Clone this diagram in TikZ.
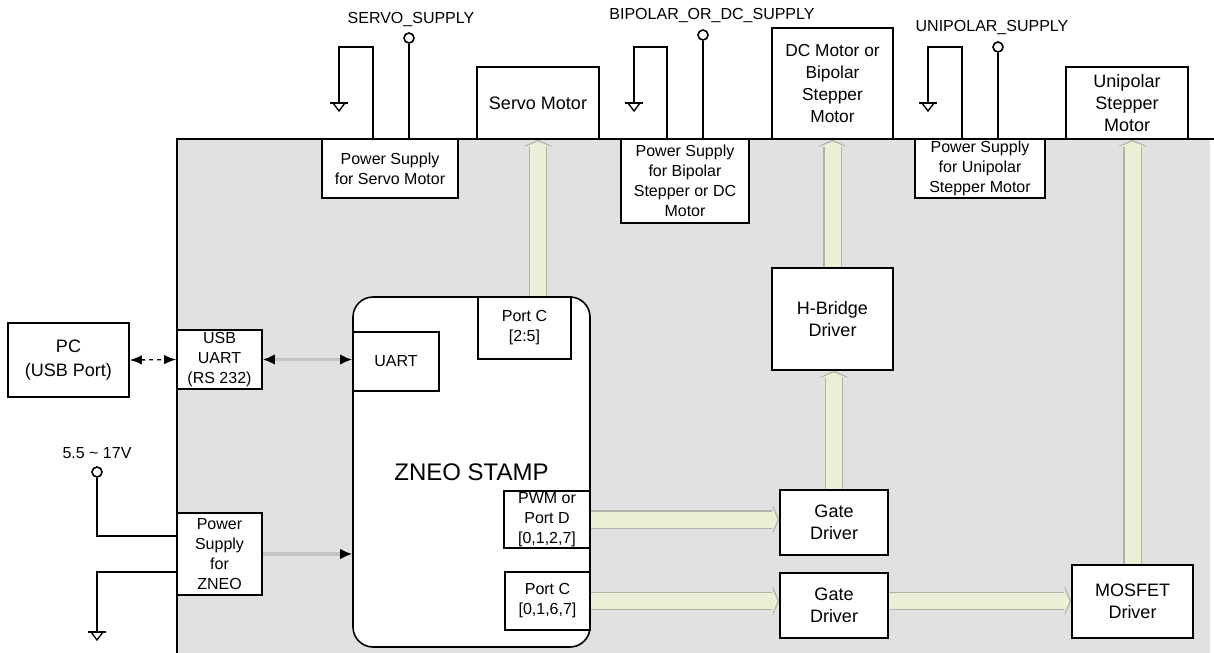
\documentclass[tikz,border=0pt]{standalone}
\usepackage{fontspec}
\setmainfont{Liberation Sans}
\usetikzlibrary{arrows.meta}
\definecolor{board}{RGB}{225,225,225}
\definecolor{pale}{RGB}{236,238,214}
\definecolor{fatline}{RGB}{178,178,168}
\definecolor{faded}{RGB}{195,195,195}
\begin{document}
\begin{tikzpicture}[x=0.75pt,y=-0.75pt,
  spot/.style n args={4}{at={({(#1+#3)/2},{(#2+#4)/2})}, minimum width={(#3-#1)*0.75pt}, minimum height={(#4-#2)*0.75pt}},
  box/.style={draw=black, line width=1.2pt, fill=white, inner sep=0pt, align=center, font=\fontsize{12}{15}\selectfont},
  bigbox/.style={box, font=\fontsize{13.5}{16.5}\selectfont},
  lbl/.style={font=\fontsize{12}{15}\selectfont, inner sep=0pt},
  wire/.style={draw=black, line width=1.2pt},
  term/.style={circle, draw=black, line width=1.2pt, fill=white, minimum size=7.5pt, inner sep=0pt},
  fat/.style={draw=fatline, line width=14pt, -{Triangle[length=5pt,width=22pt]},
    postaction={draw=pale, line width=12pt, shorten >=1.2pt, -{Triangle[length=4pt,width=19pt]}}},
  dbl/.style={line width=1pt, dash pattern=on 3pt off 3pt, {Latex[length=9pt,width=7pt]}-{Latex[length=9pt,width=7pt]}},
  fade/.style={draw=faded, line width=2.5pt, {Latex[color=black,length=9pt,width=8pt]}-{Latex[color=black,length=9pt,width=8pt]}},
  fadeone/.style={draw=faded, line width=2.5pt, -{Latex[color=black,length=9pt,width=8pt]}},
  gnd/.pic={\draw[line width=1.2pt] (-9,0) -- (9,0); \draw[line width=1pt] (-6,0) -- (0,8) -- (6,0);}
]
\useasboundingbox (0,0) rectangle (1214,653);
% board
\fill[board] (177,139) rectangle (1210,653);

% top boxes
\node[box, spot={322}{139}{458}{198}] (servops) {Power Supply\\for Servo Motor};
\node[bigbox, spot={477}{67}{599}{139}] (servo) {Servo Motor};
\node[box, spot={621}{139}{749}{223}] (bips) {Power Supply\\for Bipolar\\Stepper or DC\\Motor};
\node[bigbox, spot={772}{28}{893}{139}, font=\fontsize{13}{16.5}\selectfont] (dcm) {DC Motor or\\Bipolar\\Stepper\\Motor};
\node[box, spot={915}{139}{1045}{198}] (unips) {Power Supply\\for Unipolar\\Stepper Motor};
\node[bigbox, spot={1066}{67}{1188}{139}] (unim) {Unipolar\\Stepper\\Motor};

% left boxes
\node[bigbox, spot={8}{323}{129}{397}, font=\fontsize{13.5}{18}\selectfont] (pc) {PC\\(USB Port)};
\node[box, spot={177}{330}{262}{389}] (usb) {USB\\UART\\(RS 232)};
\node[box, spot={177}{513}{262}{595}] (pszneo) {Power\\Supply\\for\\ZNEO};

% ZNEO stamp
\node[box, rounded corners=15pt, spot={353}{297}{590}{647}, font=\fontsize{18}{22}\selectfont] (zneo) {ZNEO STAMP};
\node[box, spot={353}{332}{439}{391}] (uart) {UART};
\node[box, spot={478}{297}{571}{359}] (pc25) {Port C\\{[2:5]}};
\node[box, spot={504}{491}{590}{548}] (pwm) {PWM or\\Port D\\{[0,1,2,7]}};
\node[box, spot={505}{572}{590}{630}] (pc0167) {Port C\\{[0,1,6,7]}};

% drivers
\node[bigbox, spot={772}{268}{893}{370}] (hb) {H-Bridge\\Driver};
\node[bigbox, spot={780}{490}{888}{555}] (gd1) {Gate\\Driver};
\node[bigbox, spot={780}{573}{888}{638}] (gd2) {Gate\\Driver};
\node[bigbox, spot={1072}{565}{1193}{638}] (mos) {MOSFET\\Driver};

% fat arrows
\draw[fat] (servo.south |- pc25.north) -- (servo.south);
\draw[fat] (hb.north) -- (dcm.south);
\draw[fat] (gd1.north) -- (gd1.north |- hb.south);
\draw[fat] (pwm.east) -- (pwm.east -| gd1.west);
\draw[fat] (pc0167.east) -- (pc0167.east -| gd2.west);
\draw[fat] (gd2.east |- pc0167.east) -- (mos.west |- pc0167.east);
\draw[fat] (mos.north) -- (mos.north |- unim.south);

% board border
\draw[line width=2.2pt, line join=miter] (177,653) -- (177,139) -- (1214,139);

% supplies
\node[lbl] (lservo) at (411,20) {SERVO\_SUPPLY};
\node[term] (tservo) at (409,38) {};
\draw[wire] (tservo) -- (tservo |- servops.north);
\coordinate (gs) at (339,103); \coordinate (gst) at (373,47);
\draw[wire] (gs) |- (gst) -- (gst |- servops.north);
\pic at (gs) {gnd};

\node[lbl] (lbip) at (712,16) {BIPOLAR\_OR\_DC\_SUPPLY};
\node[term] (tbip) at (703,35) {};
\draw[wire] (tbip) -- (tbip |- bips.north);
\coordinate (gb) at (634,103); \coordinate (gbt) at (667,47);
\draw[wire] (gb) |- (gbt) -- (gbt |- bips.north);
\pic at (gb) {gnd};

\node[lbl] (luni) at (992,28) {UNIPOLAR\_SUPPLY};
\node[term] (tuni) at (998,47) {};
\draw[wire] (tuni) -- (tuni |- unips.north);
\coordinate (gu) at (928,103); \coordinate (gut) at (962,47);
\draw[wire] (gu) |- (gut) -- (gut |- unips.north);
\pic at (gu) {gnd};

\node[lbl] (lin) at (97,453) {5.5 \textasciitilde{} 17V};
\node[term] (tin) at (97,472) {};
\coordinate (vinE) at (177,536);
\draw[wire] (tin) |- (vinE);
\coordinate (gndE) at (177,572); \coordinate (gz) at (97,632);
\draw[wire] (gndE) -| (gz);
\pic at (gz) {gnd};

% links
\draw[dbl] (pc.east) -- (usb.west);
\draw[fade] (usb.east) -- (usb.east -| uart.west);
\draw[fadeone] (pszneo.east) -- (pszneo.east -| zneo.west);
\end{tikzpicture}
\end{document}
